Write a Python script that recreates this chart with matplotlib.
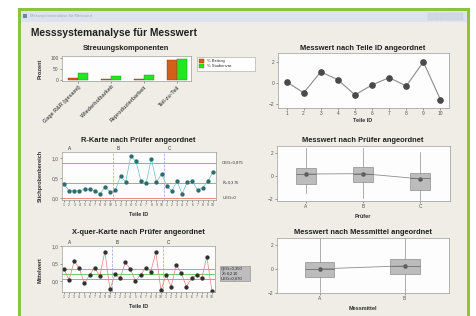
import matplotlib
matplotlib.use('Agg')
import matplotlib.pyplot as plt
from matplotlib.patches import Rectangle
import matplotlib.transforms as mtransforms
import numpy as np

plt.rcParams['font.family'] = ['Liberation Sans', 'DejaVu Sans']
plt.rcParams['mathtext.fontset'] = 'dejavusans'

# ---------------- data ----------------
components = ['Gage R&R (gesamt)', 'Wiederholbarkeit', 'Reproduzierbarkeit', 'Teil-zu-Teil']
pct_contribution = [8, 3, 5, 92]
pct_study_var = [30, 20, 24, 97]

part_ids = [1, 2, 3, 4, 5, 6, 7, 8, 9, 10]
part_means = [0.1, -0.95, 1.05, 0.3, -1.15, -0.2, 0.5, -0.3, 2.0, -1.6]

operators = ['A', 'B', 'C']
range_A = [0.35, 0.18, 0.18, 0.18, 0.22, 0.22, 0.18, 0.10, 0.28, 0.15]
range_B = [0.20, 0.55, 0.40, 1.05, 0.92, 0.42, 0.38, 0.98, 0.40, 0.60]
range_C = [0.30, 0.18, 0.42, 0.10, 0.40, 0.42, 0.20, 0.25, 0.42, 0.65]
r_ucl, r_center, r_lcl = 0.875, 0.376, 0.0

xbar_A = [0.33, 0.03, 0.57, 0.36, -0.07, 0.17, 0.38, 0.14, 0.84, -0.24]
xbar_B = [0.19, 0.08, 0.53, 0.34, 0.00, 0.17, 0.38, 0.27, 0.82, -0.26]
xbar_C = [0.17, -0.16, 0.46, 0.22, -0.16, 0.08, 0.17, 0.08, 0.70, -0.29]
x_ucl, x_center, x_lcl = 0.35, 0.21, 0.07

op_whislo = [-1.5, -1.9, -2.1]
op_q1 = [-0.7, -0.5, -1.2]
op_med = [0.17, 0.2, -0.2]
op_q3 = [0.7, 0.8, 0.26]
op_whishi = [2.4, 2.4, 2.1]
op_mean = [0.17, 0.2, -0.25]

gauges = ['A', 'B']
g_whislo = [-1.9, -2.0]
g_q1 = [-0.67, -0.42]
g_med = [0.0, 0.25]
g_q3 = [0.58, 0.83]
g_whishi = [2.55, 2.55]
g_mean = [0.0, 0.25]

# ---------------- figure ----------------
W, H = 477, 316
fig = plt.figure(figsize=(W / 100, H / 100), dpi=100)
fig.patch.set_facecolor('white')

bg = fig.add_axes([0, 0, 1, 1], zorder=-10)
bg.set_xlim(0, W)
bg.set_ylim(H, 0)
bg.axis('off')

# window frame
bg.add_patch(Rectangle((18, 8), 452, 330, facecolor='#8cc43c', edgecolor='none'))
bg.add_patch(Rectangle((21, 11), 446, 330, facecolor='#efede6', edgecolor='none'))
bg.add_patch(Rectangle((21, 11), 446, 11, facecolor='#dbe3ec', edgecolor='none'))
bg.add_patch(Rectangle((23, 14), 4, 4, facecolor='#6a88a8', edgecolor='none'))
bg.text(30, 16.5, 'Messsystemanalyse für Messwert', fontsize=3.0, color='#a0a8b8', va='center')
for bx in (428, 440, 452):
    bg.add_patch(Rectangle((bx, 13), 11, 7, facecolor='#d0d8e2', edgecolor='#c4ccd6', lw=0.3))

bg.text(31, 33, 'Messsystemanalyse für Messwert', fontsize=7.4, fontweight='bold',
        color='#202020', va='center')


def add_ax(x0, y0, x1, y1):
    ax = fig.add_axes([x0 / W, 1 - y1 / H, (x1 - x0) / W, (y1 - y0) / H])
    ax.set_facecolor('#fdfdfd')
    for s in ax.spines.values():
        s.set_color('#9a9a9a')
        s.set_linewidth(0.5)
    ax.tick_params(labelsize=3.5, length=1.5, width=0.4, pad=1, colors='#555555')
    return ax


def title(x, y, s):
    bg.text(x, y, s, fontsize=5.4, fontweight='bold', color='#202020', ha='center', va='center')


def label(x, y, s, rot=0):
    bg.text(x, y, s, fontsize=4.0, fontweight='bold', color='#303030', ha='center', va='center',
            rotation=rot)


# ---- Streuungskomponenten ----
ax = add_ax(62, 56, 191, 81)
xc = np.arange(len(components))
ax.bar(xc - 0.15, pct_contribution, width=0.3, color='#d35f1a', edgecolor='#8a3c10', lw=0.3)
ax.bar(xc + 0.15, pct_study_var, width=0.3, color='#22e622', edgecolor='#18901a', lw=0.3)
ax.set_xlim(-0.48, 3.42)
ax.set_ylim(-5, 110)
ax.set_yticks([0, 50, 100])
ax.set_yticklabels(['0', '50', '100'])
ax.set_xticks(xc)
ax.set_xticklabels(components, rotation=45, ha='right', rotation_mode='anchor', fontsize=3.9,
                   fontweight='bold')
title(126, 48, 'Streuungskomponenten')
label(40, 69, 'Prozent', rot=90)
# legend
bg.add_patch(Rectangle((197, 57), 58, 14, facecolor='white', edgecolor='#a0a0a0', lw=0.4))
bg.add_patch(Rectangle((199, 59), 5, 4, facecolor='#d35f1a', edgecolor='#8a3c10', lw=0.3))
bg.add_patch(Rectangle((199, 64), 5, 4, facecolor='#22e622', edgecolor='#18901a', lw=0.3))
bg.text(207, 61, '% Beitrag', fontsize=3.0, va='center', color='#333333')
bg.text(207, 66, '% Studienvar.', fontsize=3.0, va='center', color='#333333')

# ---- Messwert nach Teile ID ----
ax = add_ax(278, 53, 449, 108)
ax.plot(part_ids, part_means, color='#8c8c8c', lw=0.8, marker='o', ms=3.8,
        mfc='#4a4a4a', mec='#4a4a4a')
ax.set_xlim(0.5, 10.5)
ax.set_ylim(-2.4, 2.85)
ax.set_xticks(part_ids)
ax.set_yticks([-2, 0, 2])
title(363, 48, 'Messwert nach Teile ID angeordnet')
label(363, 120, 'Teile ID')

# ---- R-Karte ----
x30 = np.arange(1, 31)
ax = add_ax(62, 152, 216, 200)
r_all = range_A + range_B + range_C
ax.axhline(r_ucl, color='#e05a5a', lw=0.5)
ax.axhline(r_center, color='#3cb83c', lw=0.5)
ax.axhline(r_lcl, color='#e05a5a', lw=0.5)
for sep in (10.5, 20.5):
    ax.axvline(sep, color='#a898dc', lw=0.5, ls='--')
ax.plot(x30, r_all, color='#6cc0c0', lw=0.5, marker='o', ms=2.1, mfc='#2e6b6b', mec='#2e6b6b')
ax.set_xlim(0.6, 30.6)
ax.set_ylim(-0.05, 1.15)
ax.set_yticks([0, 0.5, 1.0])
ax.set_yticklabels(['0,0', '0,5', '1,0'])
ax.set_xticks(x30)
ax.set_xticklabels([str(i) for i in part_ids] * 3, fontsize=2.4)
tr = mtransforms.blended_transform_factory(ax.transData, ax.transAxes)
for xo, op in zip((2, 11.5, 21.5), operators):
    ax.text(xo, 1.03, op, transform=tr, fontsize=3.4, color='#333333', ha='center', va='bottom')
tr2 = mtransforms.blended_transform_factory(ax.transAxes, ax.transData)
ax.text(1.04, r_ucl, 'OEG=0,875', transform=tr2, fontsize=3.0, va='center', color='#333333')
ax.text(1.04, r_center, r'$\bar{R}$=0,376', transform=tr2, fontsize=3.0, va='center', color='#333333')
ax.text(1.04, r_lcl, 'UEG=0', transform=tr2, fontsize=3.0, va='center', color='#333333')
title(138, 140, 'R-Karte nach Prüfer angeordnet')
label(40, 176, 'Stichprobenbereich', rot=90)
label(139, 215, 'Teile ID')

# ---- X-quer-Karte ----
ax = add_ax(62, 246, 215, 292)
x_all = xbar_A + xbar_B + xbar_C
ax.axhline(x_ucl, color='#e05a5a', lw=0.5)
ax.axhline(x_center, color='#3cb83c', lw=0.5)
ax.axhline(x_lcl, color='#e05a5a', lw=0.5)
for sep in (10.5, 20.5):
    ax.axvline(sep, color='#98a0dc', lw=0.5, ls='--')
ax.plot(x30, x_all, color='#e08080', lw=0.5, marker='o', ms=2.1, mfc='#303030', mec='#303030')
ax.set_xlim(0.6, 30.6)
ax.set_ylim(-0.314, 1.0)
ax.set_yticks([0, 0.5, 1.0])
ax.set_yticklabels(['0,0', '0,5', '1,0'])
ax.set_xticks(x30)
ax.set_xticklabels([str(i) for i in part_ids] * 3, fontsize=2.4)
tr = mtransforms.blended_transform_factory(ax.transData, ax.transAxes)
for xo, op in zip((2, 11.5, 21.5), operators):
    ax.text(xo, 1.03, op, transform=tr, fontsize=3.4, color='#333333', ha='center', va='bottom')
bg.add_patch(Rectangle((220, 266), 30, 15, facecolor='#bdbdbd', edgecolor='#8a8a8a', lw=0.4))
tr2 = mtransforms.blended_transform_factory(ax.transAxes, ax.transData)
ax.text(1.04, x_ucl, 'OEG=0,350', transform=tr2, fontsize=3.0, va='center', color='#222222')
ax.text(1.04, x_center, r'$\bar{\bar{X}}$=0,210', transform=tr2, fontsize=3.0, va='center', color='#222222')
ax.text(1.04, x_lcl, 'UEG=0,070', transform=tr2, fontsize=3.0, va='center', color='#222222')
title(138, 232, 'X-quer-Karte nach Prüfer angeordnet')
label(40, 270, 'Mittelwert', rot=90)
label(139, 307, 'Teile ID')


def boxes(ax, names, wlo, q1, med, q3, whi):
    stats = []
    for n, a, b, c, d, e in zip(names, wlo, q1, med, q3, whi):
        stats.append(dict(label=n, whislo=a, q1=b, med=c, q3=d, whishi=e, fliers=[]))
    ax.bxp(stats, positions=range(1, len(names) + 1), widths=0.35, showcaps=False,
           showfliers=False, patch_artist=True,
           boxprops=dict(facecolor='#bcbcbc', edgecolor='#8e8e8e', lw=0.5),
           whiskerprops=dict(color='#8e8e8e', lw=0.5),
           medianprops=dict(color='#6e6e6e', lw=0.6))


# ---- Messwert nach Prüfer ----
ax = add_ax(277, 146, 450, 201)
boxes(ax, operators, op_whislo, op_q1, op_med, op_q3, op_whishi)
ax.plot([1, 2, 3], op_mean, color='#8e8e8e', lw=0.6, marker='o', ms=2.2, mfc='#555555', mec='#555555')
ax.set_xlim(0.5, 3.52)
ax.set_ylim(-2.17, 2.6)
ax.set_yticks([-2, 0, 2])
ax.set_xticks([1, 2, 3])
ax.set_xticklabels(operators)
title(363, 140, 'Messwert nach Prüfer angeordnet')
label(363, 216, 'Prüfer')

# ---- Messwert nach Messmittel ----
ax = add_ax(277, 238, 449, 293)
boxes(ax, gauges, g_whislo, g_q1, g_med, g_q3, g_whishi)
ax.plot([1, 2], g_mean, color='#8e8e8e', lw=0.6, marker='o', ms=2.2, mfc='#555555', mec='#555555')
ax.set_xlim(0.5, 2.52)
ax.set_ylim(-2.02, 2.58)
ax.set_yticks([-2, 0, 2])
ax.set_xticks([1, 2])
ax.set_xticklabels(gauges)
title(363, 233, 'Messwert nach Messmittel angeordnet')
label(363, 308, 'Messmittel')

fig.savefig('out.png', dpi=100, facecolor=fig.get_facecolor())
